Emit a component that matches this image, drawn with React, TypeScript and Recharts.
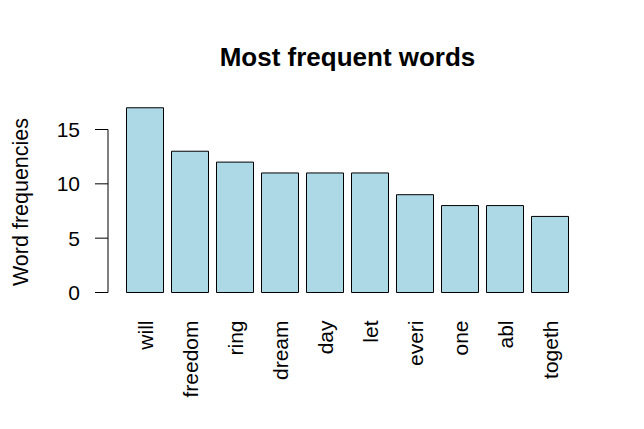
import { BarChart, Bar, XAxis, YAxis, ReferenceLine } from 'recharts'

const words = ['will', 'freedom', 'ring', 'dream', 'day', 'let', 'everi', 'one', 'abl', 'togeth']
const freqs = [17, 13, 12, 11, 11, 11, 9, 8, 8, 7]
const yTicks = [0, 5, 10, 15]

const data = words.map((word, i) => ({ word, freq: freqs[i] }))

const FONT = '"Liberation Sans", Arial, sans-serif'

function WordTick(props: any) {
  const { x, y, payload } = props
  // labels turned on their side, ending just under the bars
  return (
    <text
      transform={`translate(${x + 7.5},${y + 20}) rotate(-90)`}
      textAnchor="end"
      fill="#000"
      fontSize={21}
      fontFamily={FONT}
    >
      {payload.value}
    </text>
  )
}

export default function App() {
  return (
    <div style={{ position: 'absolute', left: 0, top: 0, width: 644, height: 429, background: '#fff' }}>
      <BarChart
        width={644}
        height={429}
        data={data}
        margin={{ top: 96.9, right: 57, bottom: 0, left: 0 }}
        barSize={37}
      >
        <XAxis
          dataKey="word"
          height={136.5}
          padding={{ left: 14.5, right: 14.5 }}
          axisLine={false}
          tickLine={false}
          interval={0}
          tick={<WordTick />}
        />
        <XAxis xAxisId="px" type="number" domain={[0, 1]} hide />
        <YAxis
          width={108}
          domain={[0, 18]}
          ticks={yTicks}
          axisLine={false}
          tickLine={{ stroke: '#000' }}
          tickSize={13}
          tickMargin={15}
          tick={{ fill: '#000', fontSize: 21, fontFamily: FONT }}
        />
        <ReferenceLine
          xAxisId="px"
          segment={[{ x: 0, y: 0 }, { x: 0, y: 15 }]}
          stroke="#000"
          strokeWidth={1}
        />
        <Bar dataKey="freq" fill="#ADD8E6" stroke="#000" strokeWidth={1} isAnimationActive={false} />
      </BarChart>
      <svg width={644} height={429} style={{ position: 'absolute', left: 0, top: 0, pointerEvents: 'none' }}>
        <text x={347.5} y={66} textAnchor="middle" fontSize={26} fontWeight="bold" fontFamily={FONT} fill="#000">
          Most frequent words
        </text>
        <text
          transform="translate(28,202) rotate(-90)"
          textAnchor="middle"
          fontSize={21.5}
          fontFamily={FONT}
          fill="#000"
        >
          Word frequencies
        </text>
      </svg>
    </div>
  )
}
